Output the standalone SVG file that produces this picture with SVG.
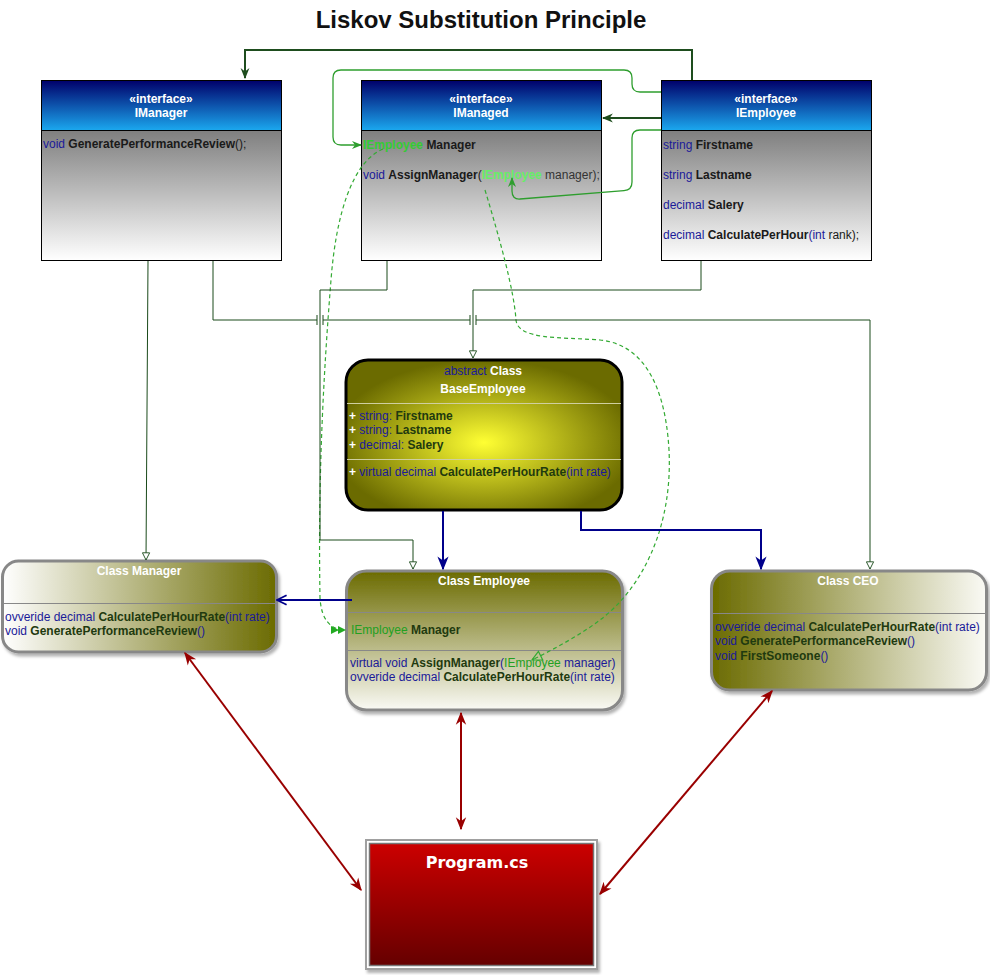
<svg xmlns="http://www.w3.org/2000/svg" width="990" height="975" viewBox="0 0 990 975">
<style>
 text{font-family:"Liberation Sans",Arial,sans-serif;font-size:12px}
 .hd{fill:#fff;font-weight:bold;text-anchor:middle}
 .kw{fill:#1a1a99}
 .nm{fill:#1a1a1a;font-weight:bold}
 .gn{fill:#1f3a0f;font-weight:bold}
 .dk{fill:#1a1a1a}
 .tree{fill:none;stroke:#1a4a1a;stroke-width:1}
 .blue{fill:none;stroke:#00008b;stroke-width:2}
 .red{fill:none;stroke:#990000;stroke-width:2}
 .lg{fill:none;stroke:#2e9e2e;stroke-width:1.3}
 .dash{fill:none;stroke:#33aa33;stroke-width:1.2;stroke-dasharray:4 3}
 .ibox{stroke:#000;stroke-width:1}
 .cls{stroke:#888;stroke-width:3}
 .sep{stroke:#888;stroke-width:1}
</style>
<defs>
 <linearGradient id="hdr" x1="0" y1="0" x2="0" y2="1"><stop offset="0" stop-color="#00006a"/><stop offset="1" stop-color="#1ba8ef"/></linearGradient>
 <linearGradient id="bdy" x1="0" y1="0" x2="0" y2="1"><stop offset="0" stop-color="#7f7f7f"/><stop offset="1" stop-color="#ffffff"/></linearGradient>
 <radialGradient id="base" cx="0.5" cy="0.55" r="0.55"><stop offset="0" stop-color="#ffff33"/><stop offset="1" stop-color="#6b6b00"/></radialGradient>
 <linearGradient id="mgr" x1="0" y1="0" x2="1" y2="0"><stop offset="0" stop-color="#ffffff"/><stop offset="1" stop-color="#6b6b00"/></linearGradient>
 <linearGradient id="emp" x1="0" y1="0" x2="0" y2="1"><stop offset="0" stop-color="#6b6b00"/><stop offset="1" stop-color="#fafaf5"/></linearGradient>
 <linearGradient id="ceo" x1="0" y1="0" x2="1" y2="0"><stop offset="0" stop-color="#6b6b00"/><stop offset="1" stop-color="#fafaf5"/></linearGradient>
 <linearGradient id="prg" x1="0" y1="0" x2="0" y2="1"><stop offset="0" stop-color="#cc0000"/><stop offset="1" stop-color="#650000"/></linearGradient>
 <filter id="sh" x="-10%" y="-10%" width="130%" height="130%"><feDropShadow dx="2" dy="3" stdDeviation="1.5" flood-color="#000" flood-opacity="0.3"/></filter>
 <marker id="mdg" viewBox="0 0 10 10" refX="9" refY="5" markerWidth="11" markerHeight="11" markerUnits="userSpaceOnUse" orient="auto"><path d="M0,1 L10,5 L0,9 L3,5 z" fill="#1e4d1e"/></marker>
 <marker id="mtri" viewBox="0 0 10 10" refX="9" refY="5" markerWidth="9" markerHeight="9" markerUnits="userSpaceOnUse" orient="auto"><path d="M1,1 L9,5 L1,9 z" fill="#fff" stroke="#1a4a1a" stroke-width="1"/></marker>
 <marker id="mlg" viewBox="0 0 10 10" refX="9" refY="5" markerWidth="10" markerHeight="10" markerUnits="userSpaceOnUse" orient="auto"><path d="M0,1 L10,5 L0,9 L3,5 z" fill="#2e9e2e"/></marker>
 <marker id="mlgt" viewBox="0 0 10 10" refX="9" refY="5" markerWidth="12" markerHeight="12" markerUnits="userSpaceOnUse" orient="auto"><path d="M1,1 L9,5 L1,9 z" fill="none" stroke="#33aa33" stroke-width="1"/></marker>
 <marker id="mdbl" viewBox="0 0 16 10" refX="15" refY="5" markerWidth="16" markerHeight="10" markerUnits="userSpaceOnUse" orient="auto"><path d="M0,1 L8,5 L0,9 z M7,1 L15,5 L7,9 z" fill="#22aa22"/></marker>
 <marker id="mbl" viewBox="0 0 10 10" refX="9" refY="5" markerWidth="14" markerHeight="14" markerUnits="userSpaceOnUse" orient="auto"><path d="M0,1 L10,5 L0,9 L3,5 z" fill="#00008b"/></marker>
 <marker id="mblo" viewBox="0 0 10 10" refX="9" refY="5" markerWidth="12" markerHeight="12" markerUnits="userSpaceOnUse" orient="auto"><path d="M1,1 L9,5 L1,9" fill="none" stroke="#00008b" stroke-width="1.5"/></marker>
 <marker id="mred" viewBox="0 0 10 10" refX="9" refY="5" markerWidth="13" markerHeight="13" markerUnits="userSpaceOnUse" orient="auto-start-reverse"><path d="M0,1 L10,5 L0,9 L3,5 z" fill="#990000"/></marker>
</defs>
<rect width="990" height="975" fill="#fff"/>
<text x="481" y="28" style="font-size:24px;font-weight:bold;text-anchor:middle;fill:#111">Liskov Substitution Principle</text>

<g id="IManager">
 <rect x="41.5" y="80.5" width="240" height="50" fill="url(#hdr)" class="ibox"/>
 <rect x="41.5" y="130.5" width="240" height="130" fill="url(#bdy)" class="ibox"/>
 <text x="161" y="103" class="hd">«interface»</text>
 <text x="161" y="117" class="hd">IManager</text>
 <text x="43" y="148"><tspan class="kw">void</tspan> <tspan class="nm">GeneratePerformanceReview</tspan><tspan class="dk">();</tspan></text>
</g>

<g id="IManaged">
 <rect x="361.5" y="80.5" width="240" height="50" fill="url(#hdr)" class="ibox"/>
 <rect x="361.5" y="130.5" width="240" height="130" fill="url(#bdy)" class="ibox"/>
 <text x="481" y="103" class="hd">«interface»</text>
 <text x="481" y="117" class="hd">IManaged</text>
 <text x="363" y="149"><tspan style="fill:#33cc33;font-weight:bold">IEmployee</tspan> <tspan class="nm">Manager</tspan></text>
 <text x="363" y="179"><tspan class="kw">void</tspan> <tspan class="nm">AssignManager</tspan><tspan class="dk">(</tspan><tspan style="fill:#66ee66;font-weight:bold">IEmployee</tspan> <tspan style="fill:#333">manager);</tspan></text>
</g>

<g id="IEmployee">
 <rect x="661.5" y="80.5" width="210" height="50" fill="url(#hdr)" class="ibox"/>
 <rect x="661.5" y="130.5" width="210" height="130" fill="url(#bdy)" class="ibox"/>
 <text x="766" y="103" class="hd">«interface»</text>
 <text x="766" y="117" class="hd">IEmployee</text>
 <text x="663" y="149"><tspan class="kw">string</tspan> <tspan class="nm">Firstname</tspan></text>
 <text x="663" y="179"><tspan class="kw">string</tspan> <tspan class="nm">Lastname</tspan></text>
 <text x="663" y="209"><tspan class="kw">decimal</tspan> <tspan class="nm">Salery</tspan></text>
 <text x="663" y="239"><tspan class="kw">decimal</tspan> <tspan class="nm">CalculatePerHour</tspan><tspan class="kw">(int</tspan> <tspan class="dk">rank);</tspan></text>
</g>

<g id="BaseEmployee">
 <rect x="346" y="360" width="276" height="150" rx="22" fill="url(#base)" stroke="#000" stroke-width="3"/>
 <line x1="347" y1="403.5" x2="621" y2="403.5" stroke="#cfcfa0" stroke-width="1"/>
 <line x1="347" y1="459.5" x2="621" y2="459.5" stroke="#cfcfa0" stroke-width="1"/>
 <text x="483" y="375" style="text-anchor:middle"><tspan class="kw">abstract</tspan> <tspan style="fill:#fff;font-weight:bold">Class</tspan></text>
 <text x="483" y="393" class="hd">BaseEmployee</text>
 <text x="349" y="420"><tspan style="fill:#fff;font-weight:bold">+</tspan> <tspan class="kw">string:</tspan> <tspan class="gn">Firstname</tspan></text>
 <text x="349" y="434"><tspan style="fill:#fff;font-weight:bold">+</tspan> <tspan class="kw">string:</tspan> <tspan class="gn">Lastname</tspan></text>
 <text x="349" y="449"><tspan style="fill:#fff;font-weight:bold">+</tspan> <tspan class="kw">decimal:</tspan> <tspan class="gn">Salery</tspan></text>
 <text x="349" y="476"><tspan style="fill:#fff;font-weight:bold">+</tspan> <tspan class="kw">virtual decimal</tspan> <tspan class="gn">CalculatePerHourRate</tspan><tspan class="kw">(int</tspan> <tspan class="kw">rate)</tspan></text>
</g>

<g id="ClassManager">
 <rect x="2.5" y="561" width="274" height="91" rx="16" fill="url(#mgr)" class="cls" filter="url(#sh)"/>
 <line x1="4" y1="603.5" x2="275" y2="603.5" class="sep"/>
 <text x="139" y="575" class="hd">Class Manager</text>
 <text x="5" y="621"><tspan class="kw">ovveride decimal</tspan> <tspan class="gn">CalculatePerHourRate</tspan><tspan class="kw">(int rate)</tspan></text>
 <text x="5" y="635"><tspan class="kw">void</tspan> <tspan class="gn">GeneratePerformanceReview</tspan><tspan class="kw">()</tspan></text>
</g>

<g id="ClassEmployee">
 <rect x="346.5" y="571" width="276" height="139" rx="20" fill="url(#emp)" class="cls" filter="url(#sh)"/>
 <line x1="348" y1="612.5" x2="621" y2="612.5" class="sep"/>
 <line x1="348" y1="650.5" x2="621" y2="650.5" class="sep"/>
 <text x="484" y="585" class="hd">Class Employee</text>
 <text x="351" y="634"><tspan style="fill:#22a022">IEmployee</tspan> <tspan class="gn">Manager</tspan></text>
 <text x="350" y="667"><tspan class="kw">virtual void</tspan> <tspan class="gn">AssignManager</tspan><tspan class="kw">(</tspan><tspan style="fill:#22a022">IEmployee</tspan> <tspan class="kw">manager)</tspan></text>
 <text x="350" y="681"><tspan class="kw">ovveride decimal</tspan> <tspan class="gn">CalculatePerHourRate</tspan><tspan class="kw">(int</tspan> <tspan class="kw">rate)</tspan></text>
</g>

<g id="ClassCEO">
 <rect x="711.5" y="571" width="275" height="119" rx="18" fill="url(#ceo)" class="cls" filter="url(#sh)"/>
 <line x1="713" y1="613.5" x2="985" y2="613.5" class="sep"/>
 <text x="848" y="585" class="hd">Class CEO</text>
 <text x="715" y="631"><tspan class="kw">ovveride decimal</tspan> <tspan class="gn">CalculatePerHourRate</tspan><tspan class="kw">(int</tspan> <tspan class="kw">rate)</tspan></text>
 <text x="715" y="645"><tspan class="kw">void</tspan> <tspan class="gn">GeneratePerformanceReview</tspan><tspan class="kw">()</tspan></text>
 <text x="715" y="660"><tspan class="kw">void</tspan> <tspan class="gn">FirstSomeone</tspan><tspan class="kw">()</tspan></text>
</g>

<g id="Program">
 <rect x="366" y="840" width="231" height="129" fill="#fff" stroke="#a0a0a0" stroke-width="2" filter="url(#sh)"/>
 <rect x="369.5" y="843.5" width="224" height="122" fill="url(#prg)" stroke="#777" stroke-width="1.5"/>
 <text x="477" y="868" style="font-family:'DejaVu Sans',sans-serif;font-size:16px;font-weight:bold;fill:#fff;text-anchor:middle">Program.cs</text>
</g>

<g id="connectors">
 <path d="M692 80 L692 50 L245 50 L245 78" fill="none" stroke="#1e4d1e" stroke-width="2" marker-end="url(#mdg)"/>
 <path d="M661 118 L603 118" fill="none" stroke="#1e4d1e" stroke-width="2" marker-end="url(#mdg)"/>
 <path d="M661 92 L640 92 Q632 92 632 84 L632 78 Q632 70 624 70 L341 70 Q333 70 333 78 L333 137 Q333 145 341 145 L361 145" class="lg" marker-end="url(#mlg)"/>
 <path d="M661 130 L640 130 Q632 130 632 138 L632 182 Q632 190 624 190.7 L520 199 Q512 199.5 512 191 L512 178" class="lg" marker-end="url(#mlg)"/>
 <path d="M383 149 C352 162 336 215 331 280 C323 380 318 480 320 598 Q322 630 346 630" class="dash" marker-end="url(#mdbl)"/>
 <path d="M485 190 C500 240 514 290 516 320 C518 340 560 337 600 340 C640 344 665 380 669 450 C673 530 640 590 600 620 C580 635 556 648 532 660" class="dash" marker-end="url(#mlgt)"/>
 <path d="M148 261 L146 560" class="tree" marker-end="url(#mtri)"/>
 <path d="M213 261 L213 320 L317 320 M323 320 L470 320 M476 320 L870 320 L870 569" class="tree" marker-end="url(#mtri)"/>
 <path d="M317 315 L317 325 M323 315 L323 325 M470 315 L470 325 M476 315 L476 325" class="tree"/>
 <path d="M387 261 L387 290 L320 290 L320 540 L413 540 L413 569" class="tree" marker-end="url(#mtri)"/>
 <path d="M701 261 L701 290 L473 290 L473 358" class="tree" marker-end="url(#mtri)"/>
 <path d="M443 511 L443 569" class="blue" marker-end="url(#mbl)"/>
 <path d="M581 511 L581 530 L761 530 L761 569" class="blue" marker-end="url(#mbl)"/>
 <path d="M352 600 L277 600" class="blue" marker-end="url(#mblo)"/>
 <path d="M185 653 L361 890" class="red" marker-start="url(#mred)" marker-end="url(#mred)"/>
 <path d="M461 713 L461 829" class="red" marker-start="url(#mred)" marker-end="url(#mred)"/>
 <path d="M772 691 L600 894" class="red" marker-start="url(#mred)" marker-end="url(#mred)"/>
</g>
</svg>
